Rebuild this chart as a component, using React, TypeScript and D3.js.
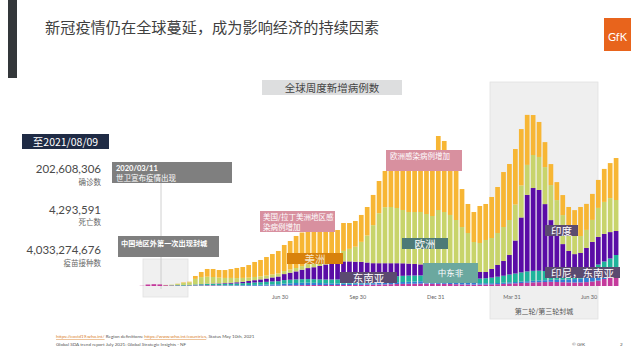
import React from "react";
import * as d3 from "d3";

// weekly new cases (thousands), by WHO region, weeks starting 2020-01-19
const wpac = [7, 50, 60, 53, 27, 17, 17, 13, 17, 17, 17, 20, 20, 17, 13, 10, 10, 10, 10, 10, 10, 13, 13, 13, 20, 23, 27, 30, 33, 33, 33, 33, 33, 33, 33, 33, 37, 40, 43, 47, 50, 53, 60, 67, 70, 73, 77, 80, 80, 77, 73, 73, 67, 60, 53, 50, 47, 47, 50, 53, 60, 70, 80, 90, 100, 110, 120, 127, 133, 140, 133, 127, 120, 117, 120, 130, 150, 183, 233, 283, 333];
const afr = [0, 0, 0, 0, 0, 0, 1, 2, 3, 7, 7, 10, 10, 10, 13, 13, 17, 20, 23, 27, 30, 33, 40, 47, 60, 67, 73, 77, 77, 73, 67, 60, 57, 53, 50, 47, 47, 47, 47, 47, 50, 53, 57, 60, 63, 67, 73, 80, 80, 80, 80, 87, 87, 80, 73, 60, 53, 47, 43, 40, 40, 40, 43, 43, 47, 50, 53, 57, 60, 67, 77, 87, 100, 113, 127, 140, 117, 100, 83, 67, 67];
const emr = [0, 0, 0, 0, 0, 10, 17, 20, 17, 27, 33, 37, 40, 43, 47, 53, 57, 63, 70, 80, 87, 93, 100, 100, 117, 120, 120, 120, 120, 120, 120, 123, 127, 133, 137, 140, 143, 150, 160, 167, 177, 187, 193, 200, 207, 207, 200, 193, 187, 180, 173, 167, 160, 150, 143, 140, 143, 153, 167, 187, 210, 233, 260, 283, 307, 327, 333, 327, 307, 280, 253, 233, 227, 233, 253, 280, 333, 433, 500, 567, 633];
const sear = [0, 0, 0, 0, 0, 0, 0, 0, 0, 3, 7, 10, 13, 17, 23, 33, 40, 50, 63, 77, 93, 110, 133, 157, 200, 233, 267, 317, 367, 400, 450, 500, 533, 567, 600, 600, 583, 567, 533, 500, 483, 467, 450, 433, 417, 400, 383, 367, 350, 333, 340, 307, 287, 277, 263, 250, 223, 220, 207, 287, 390, 490, 650, 1100, 1830, 2550, 2760, 2690, 2230, 1710, 1300, 950, 720, 600, 600, 720, 870, 920, 920, 880, 800];
const eur = [0, 0, 0, 0, 10, 17, 33, 67, 83, 183, 233, 233, 217, 193, 173, 160, 140, 127, 113, 107, 100, 100, 100, 100, 100, 107, 113, 120, 133, 150, 167, 193, 217, 300, 350, 417, 500, 667, 900, 1267, 1667, 1867, 1873, 1840, 1777, 1720, 1733, 1747, 1703, 1663, 1867, 1833, 1767, 1633, 1433, 1267, 1000, 967, 1067, 1033, 1067, 1133, 1167, 1200, 1067, 1000, 1100, 1100, 1233, 1167, 1100, 967, 767, 633, 567, 600, 733, 967, 1067, 1133, 1033];
const amr = [0, 0, 0, 0, 0, 0, 7, 17, 23, 97, 170, 257, 267, 253, 263, 297, 337, 363, 420, 500, 547, 617, 680, 750, 870, 950, 1067, 1120, 1087, 1040, 980, 907, 850, 780, 930, 863, 857, 897, 950, 1007, 1073, 1207, 1367, 1500, 1633, 1633, 1800, 2000, 2000, 1933, 2467, 2367, 2067, 1833, 1267, 967, 1000, 1233, 1200, 1367, 1533, 1833, 1867, 1850, 1880, 1667, 1333, 1167, 833, 700, 600, 667, 700, 833, 967, 867, 867, 933, 1100, 1167, 1400];

const regionKeys = ["wpac", "afr", "emr", "sear", "eur", "amr"];
const regionColors = ["#c43a9c", "#2f7fd3", "#1fb39b", "#5a0ca6", "#c8d46b", "#f7b634"];

const tickDates = ["2020-06-30", "2020-09-30", "2020-12-31", "2021-03-31", "2021-06-30"];
const tickLabels = ["Jun 30", "Sep 30", "Dec 31", "Mar 31", "Jun 30"];

const statValues = ["202,608,306", "4,293,591", "4,033,274,676"];
const statLabels = ["确诊数", "死亡数", "疫苗接种数"];

const cjk = "'Noto Sans CJK SC', 'Noto Sans', sans-serif";
const lato = "Lato, 'Noto Sans', sans-serif";

export default function App() {
  const firstWeek = new Date(2020, 0, 19);
  const weeks = wpac.map((_, i) => d3.timeDay.offset(firstWeek, i * 7));
  const rows = weeks.map((date, i) => ({
    date,
    wpac: wpac[i],
    afr: afr[i],
    emr: emr[i],
    sear: sear[i],
    eur: eur[i],
    amr: amr[i],
  }));

  const x = d3
    .scaleTime()
    .domain([new Date(2020, 5, 30), new Date(2021, 5, 30)])
    .range([280, 589]);
  const y = d3.scaleLinear().domain([0, 6000]).range([286, 106]);
  const series = d3.stack<any>().keys(regionKeys)(rows);
  const barW = 4.7;

  const parse = d3.timeParse("%Y-%m-%d");

  return (
    <svg
      width={640}
      height={361}
      style={{ position: "absolute", left: 0, top: 0, background: "#fff" }}
    >
      <rect x={0} y={0} width={640} height={361} fill="#fff" />
      {/* header */}
      <rect x={8} y={0} width={9} height={78} fill="#33373a" />
      <text x={45} y={33} fontFamily={cjk} fontSize={15.2} fill="#404040">
        新冠疫情仍在全球蔓延，成为影响经济的持续因素
      </text>
      <rect x={604} y={18} width={27} height={33} fill="#e8641c" />
      <text x={617.5} y={41} textAnchor="middle" fontFamily={lato} fontSize={11} fill="#fff">
        GfK
      </text>

      {/* chart title */}
      <rect x={262} y={80} width={140} height={15} fill="#dddedf" />
      <text x={332} y={91.5} textAnchor="middle" fontFamily={cjk} fontSize={10.5} fill="#444">
        全球周度新增病例数
      </text>

      {/* shaded periods */}
      <rect x={490} y={82} width={108} height={237} fill="#efefef" stroke="#e2e2e2" strokeWidth={0.8} />
      <text x={544} y={314} textAnchor="middle" fontFamily={cjk} fontSize={7} fill="#555">
        第二轮/第三轮封城
      </text>
      <rect x={143} y={259} width={45} height={38} fill="#f0f0f0" stroke="#e0e0e0" strokeWidth={0.8} />
      <line x1={161} x2={161} y1={183} y2={289} stroke="#c4c4c4" strokeWidth={0.8} />

      {/* stacked bars */}
      {series.map((s, si) => (
        <g key={s.key} fill={regionColors[si]}>
          {s.map((d: any, i: number) => {
            const h = y(d[0]) - y(d[1]);
            if (h <= 0) return null;
            return (
              <rect
                key={i}
                x={x(d.data.date) - barW / 2}
                y={y(d[1])}
                width={barW}
                height={h}
              />
            );
          })}
        </g>
      ))}

      {/* x ticks */}
      {tickDates.map((t, i) => (
        <text
          key={i}
          x={x(parse(t) as Date)}
          y={299}
          textAnchor="middle"
          fontFamily={lato}
          fontSize={5.5}
          fill="#666"
        >
          {tickLabels[i]}
        </text>
      ))}

      {/* callouts */}
      <rect x={112} y={162} width={120} height={21} fill="#7f7f7f" />
      <text x={116} y={171} fontFamily={lato} fontWeight="bold" fontSize={7.5} fill="#fff">
        2020/03/11
      </text>
      <text x={116} y={181} fontFamily={cjk} fontSize={7.5} fill="#fff">
        世卫宣布疫情出现
      </text>
      <rect x={118} y={236} width={101} height={21} fill="#7f7f7f" />
      <text x={121} y={246} fontFamily={cjk} fontWeight="bold" fontSize={7.2} fill="#fff">
        中国地区外第一次出现封城
      </text>

      <rect x={260} y={211} width={75} height={21} fill="#d8909f" />
      <text x={263} y={220} fontFamily={cjk} fontSize={7.5} fill="#fff">
        美国/拉丁美洲地区感
      </text>
      <text x={263} y={230} fontFamily={cjk} fontSize={7.5} fill="#fff">
        染病例增加
      </text>
      <rect x={386} y={150} width={76} height={21} fill="#d8909f" />
      <text x={390} y={159} fontFamily={cjk} fontSize={7.5} fill="#fff">
        欧洲感染病例增加
      </text>

      {/* region labels */}
      <rect x={287} y={253} width={56} height={11} fill="#d8820c" />
      <text x={315} y={262.5} textAnchor="middle" fontFamily={cjk} fontSize={10.5} fill="#f6e7c9">
        美洲
      </text>
      <rect x={340} y={272} width={57} height={11} fill="#5b4a70" />
      <text x={368.5} y={281.5} textAnchor="middle" fontFamily={cjk} fontSize={10.5} fill="#fff">
        东南亚
      </text>
      <rect x={402} y={238} width={46} height={11} fill="#4d7a77" />
      <text x={425} y={247.5} textAnchor="middle" fontFamily={cjk} fontSize={10.5} fill="#fff">
        欧洲
      </text>
      <rect x={423} y={263} width={55} height={20} fill="#6ba89f" />
      <text x={450.5} y={276} textAnchor="middle" fontFamily={cjk} fontSize={8.5} fill="#fff">
        中东非
      </text>
      <rect x={545} y={225} width={33} height={11} fill="#5b4a70" />
      <text x={561.5} y={234.5} textAnchor="middle" fontFamily={cjk} fontSize={10.5} fill="#fff">
        印度
      </text>
      <rect x={545} y={267} width={75} height={11} fill="#5b4a70" />
      <text x={582.5} y={276.5} textAnchor="middle" fontFamily={cjk} fontSize={10.5} fill="#fff">
        印尼，东南亚
      </text>

      {/* left stats */}
      <rect x={22} y={134} width={87} height={15} fill="#1f2b45" />
      <text x={65.5} y={145.5} textAnchor="middle" fontFamily={cjk} fontSize={10.5} fill="#fff">
        至2021/08/09
      </text>
      {statValues.map((v, i) => (
        <g key={i}>
          <text x={101} y={173 + i * 40.5} textAnchor="end" fontFamily={lato} fontSize={11.5} fill="#4a4a4a">
            {v}
          </text>
          <text x={101} y={184.5 + i * 40.5} textAnchor="end" fontFamily={cjk} fontSize={7.5} fill="#666">
            {statLabels[i]}
          </text>
        </g>
      ))}

      {/* footer */}
      <text x={56} y={338} fontFamily={lato} fontSize={4.6} fill="#555">
        <tspan fill="#d9822b" textDecoration="underline">https://covid19.who.int/</tspan>
        <tspan>  Region definitions: </tspan>
        <tspan fill="#d9822b" textDecoration="underline">https://www.who.int/countries</tspan>
        <tspan>, Status May 10th, 2021</tspan>
      </text>
      <text x={56} y={346} fontFamily={lato} fontSize={4.6} fill="#555">
        Global SDA trend report July 2021: Global Strategic Insights - NF
      </text>
      <text x={572} y={346} fontFamily={lato} fontSize={4.6} fill="#555">
        © GfK
      </text>
      <text x={620} y={346} fontFamily={lato} fontSize={4.6} fill="#555">
        2
      </text>
    </svg>
  );
}
